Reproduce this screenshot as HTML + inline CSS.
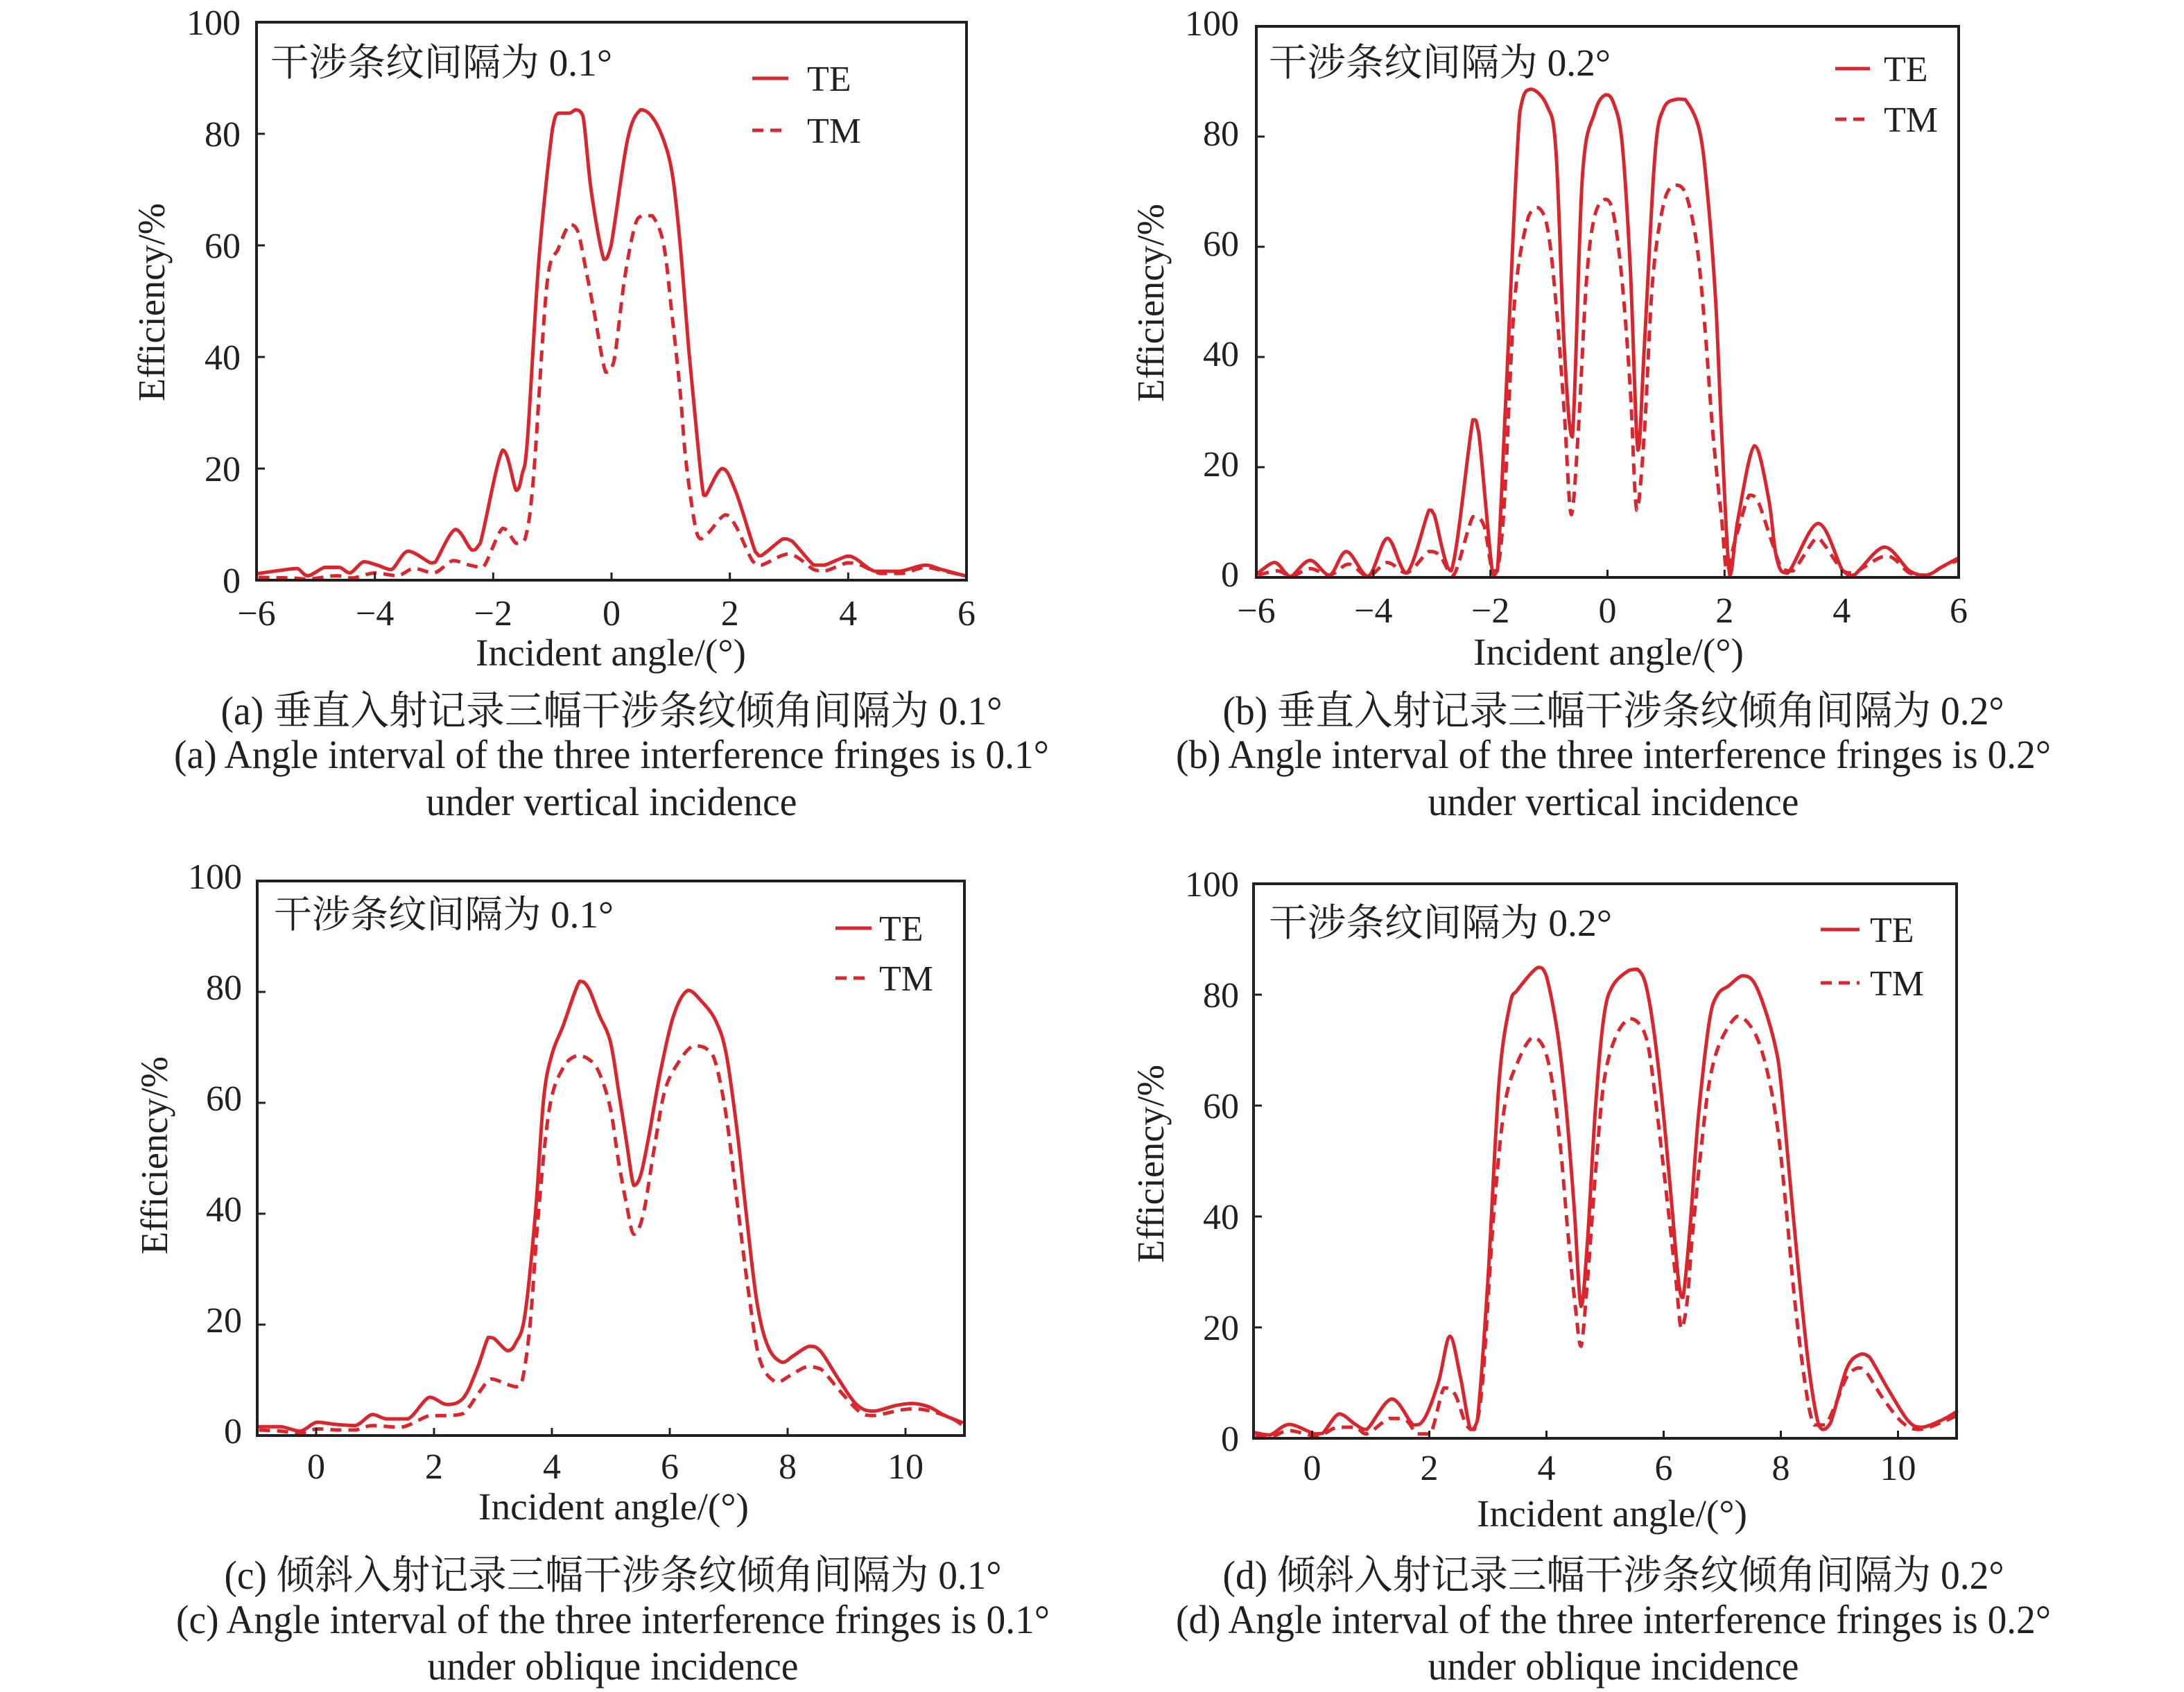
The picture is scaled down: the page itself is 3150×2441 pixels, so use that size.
<!DOCTYPE html>
<html>
<head>
<meta charset="utf-8">
<style>
html,body{margin:0;padding:0;background:#fff;}
svg{display:block;}
text{font-family:"Liberation Serif","Noto Serif CJK SC",serif;fill:#231f20;}
.tk{font-size:52px;}
.ti{font-size:55px;}
.an{font-size:55px;}
.lg{font-size:52px;}
.cp{font-size:58px;}
</style>
</head>
<body>
<svg id="s" width="3150" height="2441" viewBox="0 0 3150 2441" xmlns="http://www.w3.org/2000/svg">
<rect width="3150" height="2441" fill="#fff"/>
<g id="plots"></g>

<!-- ===== Panel (a) ===== -->
<text class="tk" x="347" y="855" text-anchor="end">0</text>
<text class="tk" x="347" y="694" text-anchor="end">20</text>
<text class="tk" x="347" y="533" text-anchor="end">40</text>
<text class="tk" x="347" y="372" text-anchor="end">60</text>
<text class="tk" x="347" y="211" text-anchor="end">80</text>
<text class="tk" x="347" y="50" text-anchor="end">100</text>
<text class="tk" x="370" y="902" text-anchor="middle">−6</text>
<text class="tk" x="540.7" y="902" text-anchor="middle">−4</text>
<text class="tk" x="711.3" y="902" text-anchor="middle">−2</text>
<text class="tk" x="882" y="902" text-anchor="middle">0</text>
<text class="tk" x="1052.7" y="902" text-anchor="middle">2</text>
<text class="tk" x="1223.3" y="902" text-anchor="middle">4</text>
<text class="tk" x="1394" y="902" text-anchor="middle">6</text>
<text class="ti" x="881" y="960" text-anchor="middle" textLength="390" lengthAdjust="spacingAndGlyphs">Incident angle/(°)</text>
<text class="ti" transform="translate(237,436) rotate(-90)" text-anchor="middle" textLength="286" lengthAdjust="spacingAndGlyphs">Efficiency/%</text>
<text class="an" x="390" y="109" textLength="493" lengthAdjust="spacingAndGlyphs">干涉条纹间隔为 0.1°</text>
<text class="lg" x="1164" y="131">TE</text>
<text class="lg" x="1164" y="206">TM</text>
<text class="cp" x="882" y="1045" text-anchor="middle" textLength="1127" lengthAdjust="spacingAndGlyphs">(a) 垂直入射记录三幅干涉条纹倾角间隔为 0.1°</text>
<text class="cp" x="882" y="1108" text-anchor="middle" textLength="1262" lengthAdjust="spacingAndGlyphs">(a) Angle interval of the three interference fringes is 0.1°</text>
<text class="cp" x="882" y="1176" text-anchor="middle" textLength="535" lengthAdjust="spacingAndGlyphs">under vertical incidence</text>

<!-- ===== Panel (b) ===== -->
<text class="tk" x="1787" y="846" text-anchor="end">0</text>
<text class="tk" x="1787" y="687" text-anchor="end">20</text>
<text class="tk" x="1787" y="528" text-anchor="end">40</text>
<text class="tk" x="1787" y="369" text-anchor="end">60</text>
<text class="tk" x="1787" y="210" text-anchor="end">80</text>
<text class="tk" x="1787" y="51" text-anchor="end">100</text>
<text class="tk" x="1812" y="898" text-anchor="middle">−6</text>
<text class="tk" x="1980.8" y="898" text-anchor="middle">−4</text>
<text class="tk" x="2149.7" y="898" text-anchor="middle">−2</text>
<text class="tk" x="2318.5" y="898" text-anchor="middle">0</text>
<text class="tk" x="2487.3" y="898" text-anchor="middle">2</text>
<text class="tk" x="2656.2" y="898" text-anchor="middle">4</text>
<text class="tk" x="2825" y="898" text-anchor="middle">6</text>
<text class="ti" x="2320" y="959" text-anchor="middle" textLength="390" lengthAdjust="spacingAndGlyphs">Incident angle/(°)</text>
<text class="ti" transform="translate(1678,437) rotate(-90)" text-anchor="middle" textLength="286" lengthAdjust="spacingAndGlyphs">Efficiency/%</text>
<text class="an" x="1830" y="109" textLength="493" lengthAdjust="spacingAndGlyphs">干涉条纹间隔为 0.2°</text>
<text class="lg" x="2717" y="117">TE</text>
<text class="lg" x="2717" y="190">TM</text>
<text class="cp" x="2327" y="1045" text-anchor="middle" textLength="1127" lengthAdjust="spacingAndGlyphs">(b) 垂直入射记录三幅干涉条纹倾角间隔为 0.2°</text>
<text class="cp" x="2327" y="1108" text-anchor="middle" textLength="1262" lengthAdjust="spacingAndGlyphs">(b) Angle interval of the three interference fringes is 0.2°</text>
<text class="cp" x="2327" y="1176" text-anchor="middle" textLength="535" lengthAdjust="spacingAndGlyphs">under vertical incidence</text>

<!-- ===== Panel (c) ===== -->
<text class="tk" x="349" y="2082" text-anchor="end">0</text>
<text class="tk" x="349" y="1922" text-anchor="end">20</text>
<text class="tk" x="349" y="1762" text-anchor="end">40</text>
<text class="tk" x="349" y="1602" text-anchor="end">60</text>
<text class="tk" x="349" y="1442" text-anchor="end">80</text>
<text class="tk" x="349" y="1282" text-anchor="end">100</text>
<text class="tk" x="456" y="2133" text-anchor="middle">0</text>
<text class="tk" x="626" y="2133" text-anchor="middle">2</text>
<text class="tk" x="796" y="2133" text-anchor="middle">4</text>
<text class="tk" x="966" y="2133" text-anchor="middle">6</text>
<text class="tk" x="1136" y="2133" text-anchor="middle">8</text>
<text class="tk" x="1306" y="2133" text-anchor="middle">10</text>
<text class="ti" x="885" y="2192" text-anchor="middle" textLength="390" lengthAdjust="spacingAndGlyphs">Incident angle/(°)</text>
<text class="ti" transform="translate(241,1667) rotate(-90)" text-anchor="middle" textLength="286" lengthAdjust="spacingAndGlyphs">Efficiency/%</text>
<text class="an" x="395" y="1338" textLength="490" lengthAdjust="spacingAndGlyphs">干涉条纹间隔为 0.1°</text>
<text class="lg" x="1268" y="1357">TE</text>
<text class="lg" x="1268" y="1429">TM</text>
<text class="cp" x="884" y="2292" text-anchor="middle" textLength="1121" lengthAdjust="spacingAndGlyphs">(c) 倾斜入射记录三幅干涉条纹倾角间隔为 0.1°</text>
<text class="cp" x="884" y="2356" text-anchor="middle" textLength="1260" lengthAdjust="spacingAndGlyphs">(c) Angle interval of the three interference fringes is 0.1°</text>
<text class="cp" x="884" y="2423" text-anchor="middle" textLength="535" lengthAdjust="spacingAndGlyphs">under oblique incidence</text>

<!-- ===== Panel (d) ===== -->
<text class="tk" x="1787" y="2093" text-anchor="end">0</text>
<text class="tk" x="1787" y="1933" text-anchor="end">20</text>
<text class="tk" x="1787" y="1773" text-anchor="end">40</text>
<text class="tk" x="1787" y="1613" text-anchor="end">60</text>
<text class="tk" x="1787" y="1453" text-anchor="end">80</text>
<text class="tk" x="1787" y="1293" text-anchor="end">100</text>
<text class="tk" x="1892.5" y="2135" text-anchor="middle">0</text>
<text class="tk" x="2061.5" y="2135" text-anchor="middle">2</text>
<text class="tk" x="2230.5" y="2135" text-anchor="middle">4</text>
<text class="tk" x="2399.5" y="2135" text-anchor="middle">6</text>
<text class="tk" x="2568.5" y="2135" text-anchor="middle">8</text>
<text class="tk" x="2737.5" y="2135" text-anchor="middle">10</text>
<text class="ti" x="2325" y="2202" text-anchor="middle" textLength="390" lengthAdjust="spacingAndGlyphs">Incident angle/(°)</text>
<text class="ti" transform="translate(1678,1679) rotate(-90)" text-anchor="middle" textLength="286" lengthAdjust="spacingAndGlyphs">Efficiency/%</text>
<text class="an" x="1830" y="1350" textLength="495" lengthAdjust="spacingAndGlyphs">干涉条纹间隔为 0.2°</text>
<text class="lg" x="2697" y="1359">TE</text>
<text class="lg" x="2697" y="1436">TM</text>
<text class="cp" x="2327" y="2292" text-anchor="middle" textLength="1127" lengthAdjust="spacingAndGlyphs">(d) 倾斜入射记录三幅干涉条纹倾角间隔为 0.2°</text>
<text class="cp" x="2327" y="2356" text-anchor="middle" textLength="1262" lengthAdjust="spacingAndGlyphs">(d) Angle interval of the three interference fringes is 0.2°</text>
<text class="cp" x="2327" y="2423" text-anchor="middle" textLength="535" lengthAdjust="spacingAndGlyphs">under oblique incidence</text>

<!-- legend lines -->
<g stroke="#da252c" stroke-width="5" fill="none">
<line x1="1085" y1="113" x2="1137" y2="113"/>
<line x1="1085" y1="188" x2="1137" y2="188" stroke-dasharray="16 10"/>
<line x1="2647" y1="99" x2="2697" y2="99"/>
<line x1="2647" y1="172" x2="2697" y2="172" stroke-dasharray="16 10"/>
<line x1="1205" y1="1339" x2="1257" y2="1339"/>
<line x1="1205" y1="1411" x2="1257" y2="1411" stroke-dasharray="16 10"/>
<line x1="2626" y1="1341" x2="2682" y2="1341"/>
<line x1="2626" y1="1418" x2="2682" y2="1418" stroke-dasharray="16 10"/>
</g>
</svg>

<script>
(function(){
var NS="http://www.w3.org/2000/svg";
var RED="#da252c", BLK="#231f20";
var P={
 a:{x0:370,x1:1394,xmin:-6,xmax:6,top:32,bot:837,xt:[-4,-2,0,2,4]},
 b:{x0:1812,x1:2825,xmin:-6,xmax:6,top:38,bot:833,xt:[-4,-2,0,2,4]},
 c:{x0:371,x1:1391,xmin:-1,xmax:11,top:1271,bot:2071,xt:[0,2,4,6,8,10]},
 d:{x0:1808,x1:2822,xmin:-1,xmax:11,top:1275,bot:2075,xt:[0,2,4,6,8,10]}
};
var D={
a:{
TE:[[-5.97,1.2],[-5.5,1.9],[-5.31,2.1],[-5.13,0.8],[-4.85,2.3],[-4.6,2.3],[-4.42,1.3],[-4.19,3.3],[-3.96,2.7],[-3.72,1.9],[-3.44,5.2],[-3.06,3.1],[-2.98,3.2],[-2.64,9.1],[-2.36,5.4],[-2.22,6.6],[-1.84,23.3],[-1.61,16.1],[-1.51,19],[-1.42,25.3],[-1.23,57],[-1.0,80.8],[-0.9,83.7],[-0.71,83.7],[-0.6,84.3],[-0.48,83.1],[-0.34,69.5],[-0.13,57.5],[-0.01,59.8],[0.27,78.9],[0.49,84.3],[0.68,83.1],[0.88,78.9],[1.03,72.6],[1.16,60.2],[1.31,40.8],[1.45,25.3],[1.54,16.3],[1.59,15.2],[1.87,20],[2.1,15.9],[2.43,5.1],[2.53,4.4],[2.9,7.4],[3.05,7],[3.42,2.7],[3.6,2.7],[3.98,4.3],[4.12,3.9],[4.45,1.6],[4.87,1.6],[5.3,2.7],[5.58,1.9],[5.97,0.8]],
TM:[[-5.97,0.5],[-5.4,0.4],[-5.13,0.2],[-4.66,0.8],[-4.38,0.4],[-4.0,1.3],[-3.62,0.8],[-3.34,2.1],[-3.0,1.3],[-2.68,3.5],[-2.4,2.7],[-2.17,2.3],[-1.84,9.3],[-1.61,6.6],[-1.46,7.4],[-1.32,18.3],[-1.09,53.2],[-0.9,59.4],[-0.71,63.7],[-0.57,62.5],[-0.43,55.5],[-0.29,47.8],[-0.1,37.3],[0.04,39.2],[0.22,54],[0.39,63.3],[0.51,65.3],[0.69,65.3],[0.88,60.2],[1.02,47.8],[1.16,33.8],[1.25,22.1],[1.4,10.5],[1.5,7.4],[1.64,8.5],[1.92,11.7],[2.1,9.7],[2.38,3.5],[2.53,2.7],[3.0,4.7],[3.42,1.9],[3.6,1.6],[3.98,3.1],[4.17,2.9],[4.54,1.2],[4.91,1.2],[5.3,2.3],[5.63,1.6],[5.97,0.8]]
},
b:{
TE:[[-5.97,0.8],[-5.69,2.7],[-5.5,0.8],[-5.4,0.2],[-5.08,3.1],[-4.75,0.4],[-4.46,4.7],[-4.09,0.2],[-3.76,7.1],[-3.43,0.8],[-3.05,12.2],[-2.96,11.4],[-2.67,1.2],[-2.3,28.6],[-2.2,26.3],[-1.97,1.2],[-1.88,1.2],[-1.73,34.1],[-1.5,84.3],[-1.31,88.6],[-1.03,85.5],[-0.88,77.3],[-0.74,42],[-0.6,25.5],[-0.43,72.5],[-0.22,84.3],[-0.03,87.6],[0.11,85.9],[0.25,78.8],[0.39,56.1],[0.52,23.1],[0.63,42],[0.81,76.5],[0.96,85.1],[1.19,86.8],[1.33,86.7],[1.57,81.2],[1.71,69.4],[1.85,49.8],[1.95,26.3],[2.09,0.4],[2.23,10.6],[2.51,23.9],[2.75,14.5],[2.89,3.5],[3.08,0.8],[3.6,9.8],[4.02,1.2],[4.21,0.4],[4.73,5.5],[5.16,1.2],[5.45,0.4],[5.73,2.0],[5.99,3.5]],
TM:[[-5.97,0.4],[-5.64,1.2],[-5.4,0.2],[-5.08,1.6],[-4.75,0.4],[-4.42,2.4],[-4.09,0.2],[-3.76,2.7],[-3.43,0.8],[-3.05,4.7],[-2.86,3.9],[-2.63,0.4],[-2.3,11],[-2.11,9.4],[-1.94,0.4],[-1.78,10.6],[-1.59,49.8],[-1.35,65.5],[-1.18,67.1],[-1.02,63.1],[-0.88,49.8],[-0.74,30.2],[-0.62,11.4],[-0.5,26.3],[-0.36,53.7],[-0.22,65.5],[-0.03,68.6],[0.11,65.5],[0.25,53.7],[0.39,34.1],[0.5,12.2],[0.63,26.3],[0.77,53.7],[0.96,67.8],[1.15,71.2],[1.33,69.8],[1.52,60.8],[1.66,45.9],[1.8,26.3],[1.95,10.6],[2.04,1.2],[2.18,6.7],[2.42,14.9],[2.56,14.1],[2.8,6.7],[2.98,1.6],[3.17,1.2],[3.56,7.1],[3.7,6.0],[4.02,1.2],[4.21,0.8],[4.77,3.9],[5.16,0.8],[5.45,0.4],[5.73,2.0],[5.99,3.1]]
},
c:{
TE:[[-0.97,1.6],[-0.6,1.6],[-0.27,0.8],[0.01,2.4],[0.34,2.0],[0.67,1.8],[0.95,3.8],[1.19,3.0],[1.56,3.0],[1.92,6.9],[2.22,5.6],[2.5,6.8],[2.73,12],[2.92,17.7],[3.02,17.5],[3.25,15.3],[3.39,16.8],[3.54,21.6],[3.72,40],[3.86,60.7],[4.0,68.7],[4.19,73.9],[4.47,81.9],[4.62,80.7],[4.8,75.9],[4.99,71.1],[5.13,62.3],[5.27,52.7],[5.39,45.1],[5.51,47.1],[5.65,54.3],[5.84,65.5],[6.07,75.9],[6.31,80.3],[6.54,78.3],[6.78,74.8],[6.96,68.7],[7.15,54.3],[7.29,40.7],[7.48,24],[7.67,16],[7.91,13.2],[8.1,14.4],[8.37,16.1],[8.56,15.2],[8.85,10.4],[9.17,5.6],[9.45,4.4],[9.83,5.4],[10.11,5.8],[10.39,5.2],[10.67,3.6],[10.95,2.4]],
TM:[[-0.97,1.0],[-0.6,0.8],[-0.27,0.4],[0.01,1.2],[0.34,1.0],[0.67,1.0],[0.95,1.8],[1.45,1.5],[1.92,3.6],[2.22,3.6],[2.5,4.0],[2.78,8],[2.97,10.2],[3.25,9.2],[3.39,8.8],[3.49,9.6],[3.63,20],[3.77,40],[3.96,59.1],[4.19,66.3],[4.42,68.5],[4.62,67.9],[4.8,65.5],[4.99,59.1],[5.13,49.5],[5.27,41.5],[5.39,36.3],[5.55,39.9],[5.74,52],[5.92,62.3],[6.16,67.5],[6.4,70.3],[6.63,69.7],[6.78,67.1],[6.96,57.5],[7.15,41.5],[7.34,25.6],[7.53,13.6],[7.81,9.6],[8.04,10.8],[8.32,12.4],[8.56,12],[8.89,8],[9.21,4.4],[9.45,3.6],[9.92,4.6],[10.2,4.8],[10.5,4.2],[10.8,3.0],[10.95,2.0]]
},
d:{
TE:[[-0.97,1.0],[-0.72,0.6],[-0.39,2.5],[0.04,0.8],[0.18,0.9],[0.46,4.4],[0.74,2.5],[0.93,1.6],[1.36,7.1],[1.73,2.4],[1.92,3.6],[2.16,10.3],[2.35,18.4],[2.53,11.1],[2.7,1.6],[2.82,3.2],[3.0,28.5],[3.19,64.2],[3.38,78.4],[3.5,80.8],[3.85,84.9],[3.99,83.6],[4.18,73.7],[4.33,60.2],[4.47,42],[4.59,23.8],[4.7,35.7],[4.84,60.2],[4.98,76],[5.13,81.6],[5.41,84.4],[5.55,84.6],[5.69,82],[5.83,73.7],[5.98,60.2],[6.12,44.4],[6.26,27.7],[6.33,25.4],[6.45,38],[6.59,57.8],[6.78,75.2],[6.92,80],[7.11,81.6],[7.34,83.4],[7.53,82.4],[7.72,77.7],[7.91,70.5],[8.0,64.2],[8.14,48.4],[8.28,32.5],[8.47,13.5],[8.61,4.0],[8.71,1.6],[8.85,2.8],[9.13,12.7],[9.37,15.2],[9.51,14.7],[9.84,8.7],[10.17,3.2],[10.4,2.0],[10.73,3.2],[11.0,4.8]],
TM:[[-0.97,0.4],[-0.67,0.4],[-0.39,1.4],[0.08,0.4],[0.42,2.0],[0.74,2.0],[0.93,0.8],[1.32,3.6],[1.6,3.3],[1.79,0.8],[2.02,0.8],[2.25,9.1],[2.44,7.9],[2.63,2.4],[2.77,1.6],[2.91,10.3],[3.1,40.4],[3.29,60.2],[3.52,68.1],[3.76,72.3],[3.95,70.5],[4.1,64.2],[4.24,52.3],[4.37,36.5],[4.5,23],[4.59,16.6],[4.7,28.5],[4.84,48.3],[4.98,64.2],[5.17,72.1],[5.41,75.7],[5.6,74.5],[5.74,70.5],[5.88,59.4],[6.07,42],[6.21,28.5],[6.3,19.8],[6.4,24.6],[6.49,36.5],[6.64,52.3],[6.78,64.2],[6.96,71.3],[7.25,76.1],[7.44,74.9],[7.63,71.3],[7.81,64.2],[7.96,54.7],[8.1,40.4],[8.24,24.6],[8.43,8.7],[8.57,2.4],[8.76,2.4],[8.94,6.3],[9.13,11.1],[9.32,12.7],[9.46,11.9],[9.75,7.1],[10.08,2.8],[10.36,1.6],[10.73,2.8],[11.0,4.1]]
}
};
function px(p,x,v){return [p.x0+(x-p.xmin)*(p.x1-p.x0)/(p.xmax-p.xmin), p.bot-v*(p.bot-p.top)/100];}
function f(n){return n.toFixed(1);}
function cl(v,a,b){var lo=Math.min(a,b),hi=Math.max(a,b);return v<lo?lo:(v>hi?hi:v);}
function smooth(pts){
  var d="M"+f(pts[0][0])+","+f(pts[0][1]);
  for(var i=0;i<pts.length-1;i++){
    var p0=pts[Math.max(i-1,0)],p1=pts[i],p2=pts[i+1],p3=pts[Math.min(i+2,pts.length-1)];
    var k=1/6;
    var c1x=p1[0]+(p2[0]-p0[0])*k,c1y=p1[1]+(p2[1]-p0[1])*k;
    var c2x=p2[0]-(p3[0]-p1[0])*k,c2y=p2[1]-(p3[1]-p1[1])*k;
    c1y=cl(c1y,p1[1],p2[1]); c2y=cl(c2y,p1[1],p2[1]);
    d+=" C"+f(c1x)+","+f(c1y)+" "+f(c2x)+","+f(c2y)+" "+f(p2[0])+","+f(p2[1]);
  }
  return d;
}
function el(tag,attrs,parent){
  var e=document.createElementNS(NS,tag);
  for(var k in attrs)e.setAttribute(k,attrs[k]);
  parent.appendChild(e);return e;
}
var g=document.getElementById("plots");
for(var key in P){
  var p=P[key];
  var tm=D[key].TM.map(function(q){return px(p,q[0],q[1]);});
  var te=D[key].TE.map(function(q){return px(p,q[0],q[1]);});
  el("path",{d:smooth(tm),fill:"none",stroke:RED,"stroke-width":"5","stroke-dasharray":"16 10","stroke-linejoin":"round"},g);
  el("path",{d:smooth(te),fill:"none",stroke:RED,"stroke-width":"5","stroke-linejoin":"round","stroke-linecap":"round"},g);
  el("rect",{x:p.x0,y:p.top,width:p.x1-p.x0,height:p.bot-p.top,fill:"none",stroke:BLK,"stroke-width":"4"},g);
  [20,40,60,80].forEach(function(v){
    var y=p.bot-v*(p.bot-p.top)/100;
    el("line",{x1:p.x0,y1:y,x2:p.x0+12,y2:y,stroke:BLK,"stroke-width":"3"},g);
  });
  p.xt.forEach(function(xv){
    var x=p.x0+(xv-p.xmin)*(p.x1-p.x0)/(p.xmax-p.xmin);
    el("line",{x1:x,y1:p.bot,x2:x,y2:p.bot-11,stroke:BLK,"stroke-width":"3"},g);
  });
}
})();
</script>
</body>
</html>
